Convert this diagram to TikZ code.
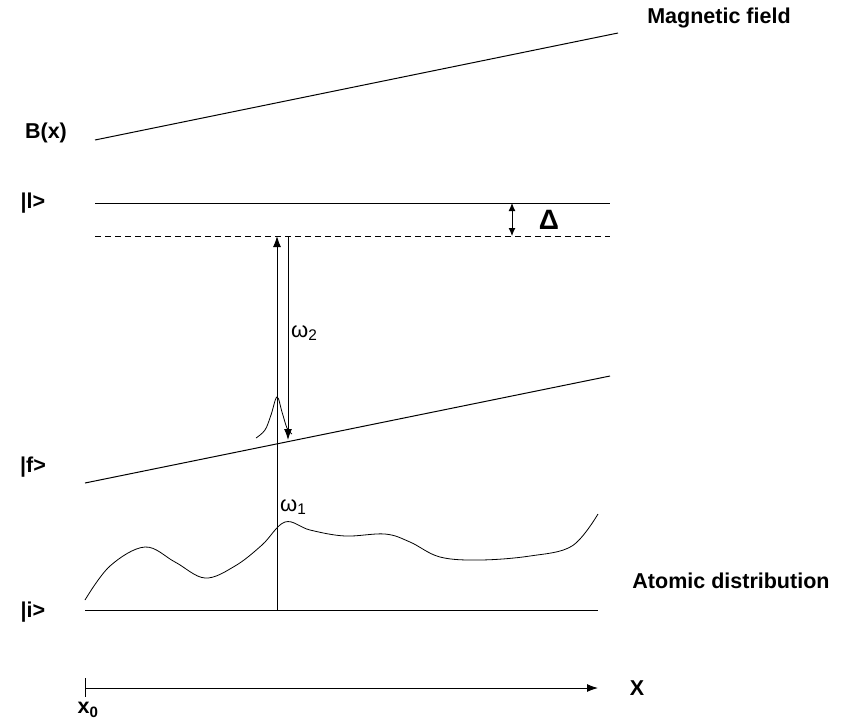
\documentclass[tikz,border=0pt]{standalone}
\usepackage{fontspec}
\setmainfont{Liberation Sans}
\usetikzlibrary{arrows.meta}
\begin{document}
\begin{tikzpicture}[x=1pt,y=-1pt,
  lbl/.style={font=\fontsize{21.5}{24}\selectfont\bfseries, inner sep=0pt},
  om/.style={font=\fontsize{22}{24}\selectfont, inner sep=0pt},
  ln/.style={line width=1pt},
  tip/.style={-{Latex[length=11pt,width=8pt]}}]
\useasboundingbox (0,0) rectangle (843,721);
% magnetic field
\coordinate (b1) at (95,140); \coordinate (b2) at (618,33);
\draw[ln] (b1) -- (b2);
\node[lbl] (mag) at (719,18) {Magnetic field};
\node[lbl] (bx) at (46,133) {B(x)};
% |l>
\coordinate (l1) at (95,203); \coordinate (l2) at (610,203);
\draw[ln] (l1) -- (l2);
\node[lbl] (ll) at (33,203) {|l>};
% dashed
\coordinate (d1) at (95,236); \coordinate (d2) at (610,236);
\draw[ln, dash pattern=on 6pt off 4pt] (d1) -- (d2);
% Delta
\coordinate (da) at (512,203); \coordinate (db) at (512,236);
\draw[ln, {Latex[length=8pt,width=7pt]}-{Latex[length=8pt,width=7pt]}] (da) -- (db);
\node[lbl, font=\fontsize{28}{30}\selectfont\bfseries] (delta) at (549,220) {Δ};
% |f>
\coordinate (f1) at (85,483); \coordinate (f2) at (610,376);
\draw[ln] (f1) -- (f2);
\node[lbl] (ff) at (33,467) {|f>};
% |i>
\coordinate (i1) at (85,610); \coordinate (i2) at (598,610);
\draw[ln] (i1) -- (i2);
\node[lbl] (ii) at (33,612) {|i>};
% up arrow
\coordinate (u1) at (277,610); \coordinate (u2) at (277,236);
\draw[ln, tip] (u1) -- (u2);
% down arrow
\coordinate (w1) at (288,236); \coordinate (w2) at (288,440);
\draw[ln, tip] (w1) -- (w2);
\node[om, anchor=west] (om2) at (291,333) {ω\textsubscript{2}};
\node[om, anchor=west] (om1) at (280,507) {ω\textsubscript{1}};
% gaussian
\draw[line width=0.8pt] plot[smooth, tension=0.6] coordinates {(256,438) (265,430) (271,415) (277,397) (282,412) (287,428) (292,434)};
% atomic distribution
\draw[line width=0.8pt] plot[smooth, tension=0.6] coordinates {(85,600) (110,566) (145,547) (175,562) (205,578) (235,566) (262,545) (285,522) (310,530) (345,536) (385,534) (410,542) (440,557) (480,560) (530,556) (572,546) (598,514)};
\node[lbl] (atd) at (731,581) {Atomic distribution};
% x axis
\coordinate (x1) at (85,688); \coordinate (x2) at (598,688);
\draw[ln, tip] (x1) -- (x2);
\coordinate (t1) at (85,678); \coordinate (t2) at (85,697);
\draw[ln] (t1) -- (t2);
\node[lbl] (xx) at (637,688) {X};
\node[lbl] (x0) at (88,710) {x\textsubscript{0}};
\end{tikzpicture}
\end{document}
